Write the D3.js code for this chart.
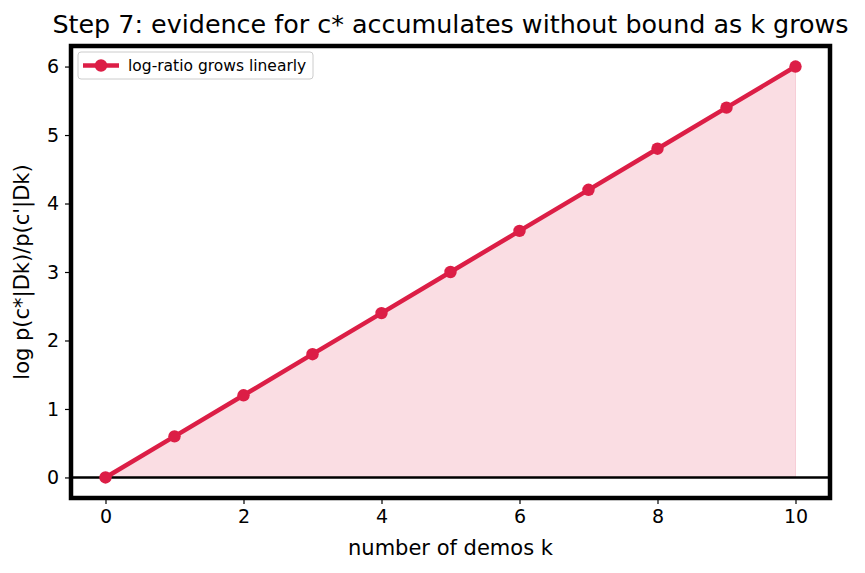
<!DOCTYPE html>
<html>
<head>
<meta charset="utf-8">
<script src="https://cdn.jsdelivr.net/npm/d3@7"></script>
<style>
  body { margin: 0; background: #fff; }
  svg text { font-family: "DejaVu Sans", sans-serif; fill: #000; }
</style>
</head>
<body>
<div class="graph"></div>
<script>
// demos k and the log-ratio
const demos = [0, 1, 2, 3, 4, 5, 6, 7, 8, 9, 10];
const logRatio = [0, 0.6, 1.2, 1.8, 2.4, 3.0, 3.6, 4.2, 4.8, 5.4, 6.0];
const xTicks = [0, 2, 4, 6, 8, 10];
const yTicks = [0, 1, 2, 3, 4, 5, 6];

const w = 865, h = 573;
const padL = 71, padR = 830, padT = 46, padB = 498;
const red = "#dc1e46";

const data = demos.map((k, i) => ({ k: k, v: logRatio[i] }));

const xScale = d3.scaleLinear().domain([-0.5, 10.5]).range([padL, padR]);
const yScale = d3.scaleLinear().domain([-0.3, 6.3]).range([padB, padT]);

const svg = d3.select(".graph").append("svg")
  .attr("width", w).attr("height", h);

// shaded area under the line
svg.append("path")
  .datum(data)
  .attr("d", d3.area().x(d => xScale(d.k)).y0(yScale(0)).y1(d => yScale(d.v)))
  .attr("fill", red).attr("fill-opacity", 0.15)
  .attr("stroke", red).attr("stroke-opacity", 0.15);

// zero line
svg.append("line")
  .attr("x1", padL).attr("x2", padR)
  .attr("y1", yScale(0)).attr("y2", yScale(0))
  .attr("stroke", "#000").attr("stroke-width", 2.5);

svg.append("path")
  .datum(data)
  .attr("d", d3.line().x(d => xScale(d.k)).y(d => yScale(d.v)))
  .attr("fill", "none").attr("stroke", red).attr("stroke-width", 4.5);

svg.selectAll("circle.pt")
  .data(data).enter().append("circle")
  .attr("class", "pt")
  .attr("cx", d => xScale(d.k)).attr("cy", d => yScale(d.v))
  .attr("r", 6.2).attr("fill", red);

// axes
const xAxis = d3.axisBottom(xScale).tickValues(xTicks).tickFormat(d3.format("d")).tickSize(6).tickPadding(6);
const yAxis = d3.axisLeft(yScale).tickValues(yTicks).tickFormat(d3.format("d")).tickSize(6).tickPadding(6);

const gx = svg.append("g").attr("transform", "translate(0," + padB + ")").call(xAxis);
const gy = svg.append("g").attr("transform", "translate(" + padL + ",0)").call(yAxis);
[gx, gy].forEach(g => {
  g.select(".domain").remove();
  g.selectAll(".tick line").attr("stroke", "#000").attr("stroke-width", 1.2);
  g.selectAll(".tick text").style("font-size", "19px").style("font-family", "DejaVu Sans");
});

// thick frame
svg.append("rect")
  .attr("x", padL).attr("y", padT)
  .attr("width", padR - padL).attr("height", padB - padT)
  .attr("fill", "none").attr("stroke", "#000").attr("stroke-width", 4.5);

svg.append("text")
  .attr("x", (padL + padR) / 2).attr("y", 33)
  .attr("text-anchor", "middle").style("font-size", "25.4px")
  .text("Step 7: evidence for c* accumulates without bound as k grows");

svg.append("text")
  .attr("x", (padL + padR) / 2).attr("y", 555)
  .attr("text-anchor", "middle").style("font-size", "21px")
  .text("number of demos k");

svg.append("text")
  .attr("transform", "rotate(-90)")
  .attr("x", -(padT + padB) / 2).attr("y", 29)
  .attr("text-anchor", "middle").style("font-size", "21px")
  .text("log p(c*|Dk)/p(c'|Dk)");

// legend
const lg = svg.append("g").attr("transform", "translate(78,52)");
lg.append("rect")
  .attr("width", 235).attr("height", 27).attr("rx", 3)
  .attr("fill", "#fff").attr("fill-opacity", 0.8)
  .attr("stroke", "#ccc").attr("stroke-width", 1);
lg.append("line")
  .attr("x1", 5).attr("x2", 41).attr("y1", 13.5).attr("y2", 13.5)
  .attr("stroke", red).attr("stroke-width", 4.5);
lg.append("circle").attr("cx", 23).attr("cy", 13.5).attr("r", 6.2).attr("fill", red);
lg.append("text")
  .attr("x", 50).attr("y", 19).style("font-size", "15.5px")
  .text("log-ratio grows linearly");
</script>
</body>
</html>
